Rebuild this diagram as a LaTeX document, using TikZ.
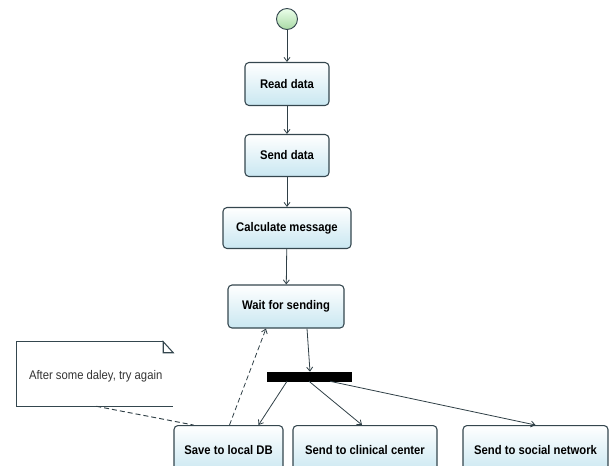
\documentclass[tikz,border=0pt]{standalone}
\usepackage{fontspec}
\setmainfont{Liberation Sans}[FakeStretch=0.9]
\usetikzlibrary{arrows.meta,calc}
\newdimen\pxu
\pxu=0.75pt
\definecolor{edge}{HTML}{34464E}
\definecolor{boxlow}{HTML}{C9E7F1}
\definecolor{startgreen}{HTML}{A9D9A4}
\tikzset{
  activity/.style={draw=edge, line width=0.8pt, rounded corners=4\pxu,
    top color=white, bottom color=boxlow, inner sep=0pt, align=center,
    font=\fontsize{9.4}{11}\selectfont\bfseries},
  flow/.style={draw=edge!90!black, line width=0.6pt,
    -{Straight Barb[length=3pt,width=4.5pt]}},
  dashflow/.style={flow, dash pattern=on 3.75pt off 2.25pt},
  dashlink/.style={draw=edge!90!black, line width=0.7pt, dash pattern=on 3.75pt off 2.25pt},
}
\begin{document}
\begin{tikzpicture}[x=0.75pt,y=-0.75pt]
\useasboundingbox (0,0) rectangle (609,465);

% start state
\node[circle, draw=edge, line width=0.7pt, minimum size=21\pxu, inner sep=0pt,
  top color=green!8!white, bottom color=startgreen] (init) at (287,19) {};

% main sequence
\node[activity, minimum width=84\pxu, minimum height=43\pxu] (read) at (287,84) {Read data};
\node[activity, minimum width=84\pxu, minimum height=42\pxu] (send) at (287,155.5) {Send data};
\node[activity, minimum width=128\pxu, minimum height=41\pxu] (calc) at (287,228) {Calculate message};
\node[activity, minimum width=116\pxu, minimum height=43\pxu] (wait) at (286,306.5) {Wait for sending};

% fork bar
\node[fill=black, draw=black, inner sep=0pt, minimum width=84\pxu, minimum height=9\pxu] (fork) at (309,376.5) {};

% targets
\node[activity, minimum width=109\pxu, minimum height=48\pxu, anchor=north] (save) at (228.5,425) {\raisebox{-2pt}{Save to local DB}};
\node[activity, minimum width=144\pxu, minimum height=48\pxu, anchor=north] (clin) at (365,425) {\raisebox{-2pt}{Send to clinical center}};
\node[activity, minimum width=145\pxu, minimum height=48\pxu, anchor=north] (social) at (535.5,425) {\raisebox{-2pt}{Send to social network}};

% note
\node[minimum width=156\pxu, minimum height=64\pxu, inner sep=0pt] (note) at (95,374) {};
\draw[edge, line width=0.8pt]
  ([xshift=-10\pxu]note.north east) -- (note.north west) -- (note.south west) -- (note.south east);
\draw[edge, line width=0.8pt]
  ([xshift=-10\pxu]note.north east) -- ([xshift=-10\pxu,yshift=-11\pxu]note.north east)
  -- ([yshift=-11\pxu]note.north east) -- cycle;
\node[anchor=west, inner sep=0pt, text=black!80,
  font=\fontsize{9.4}{11}\selectfont] (notetext) at ([xshift=12\pxu,yshift=-2\pxu]note.west)
  {After some daley, try again};

% control flow
\draw[flow] (init) -- (read);
\draw[flow] (read) -- (send);
\draw[flow] (send) -- (calc);
\draw[flow] (calc) -- (wait);
\draw[flow] ([xshift=21\pxu]wait.south) -- ([xshift=1\pxu]fork.north);
\draw[flow] ([xshift=-22\pxu]fork.south) -- ([xshift=30\pxu]save.north);
\draw[flow] (fork.south) -- ([xshift=-3\pxu]clin.north);
\draw[flow] ([xshift=21\pxu]fork.south) -- (social.north);
\draw[dashflow] ([xshift=1\pxu]save.north) -- ([xshift=-20\pxu]wait.south);
\draw[dashlink] ([xshift=-77\pxu]note.south east) -- ([xshift=20\pxu]save.north west);
\end{tikzpicture}
\end{document}
